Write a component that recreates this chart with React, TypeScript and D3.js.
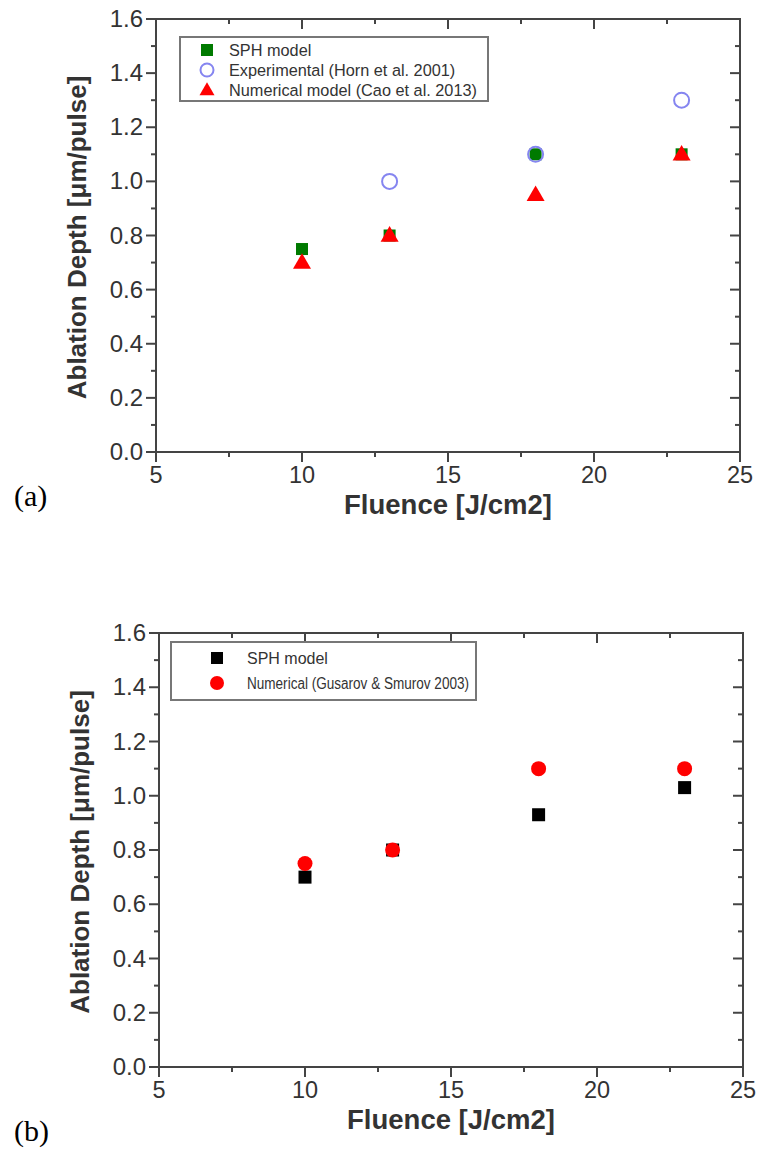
import React from "react";
import * as d3 from "d3";

const fluence = [10, 13, 18, 23];
const aSph = [0.75, 0.8, 1.1, 1.1];
const aExpFluence = [13, 18, 23];
const aExp = [1.0, 1.1, 1.3];
const aCao = [0.7, 0.8, 0.95, 1.1];
const bSph = [0.7, 0.8, 0.93, 1.03];
const bGusarov = [0.75, 0.8, 1.1, 1.1];

const xTicks = [5, 10, 15, 20, 25];
const xMinor = [7.5, 12.5, 17.5, 22.5];
const yTicks = [0, 0.2, 0.4, 0.6, 0.8, 1.0, 1.2, 1.4, 1.6];
const yMinor = [0.1, 0.3, 0.5, 0.7, 0.9, 1.1, 1.3, 1.5];

const legendA = ["SPH model", "Experimental (Horn et al. 2001)", "Numerical model (Cao et al. 2013)"];
const legendB = ["SPH model", "Numerical (Gusarov & Smurov 2003)"];

const AXIS = "#444";
const FONT = "Liberation Sans, Arial, sans-serif";
const GREEN = "#007a00";
const BLUE = "#8585f0";
const RED = "#ff0000";

type Frame = { left: number; right: number; top: number; bottom: number };

function Square({ x, y, s, fill }: { x: number; y: number; s: number; fill: string }) {
  return <rect x={x - s / 2} y={y - s / 2} width={s} height={s} fill={fill} />;
}
function Tri({ x, y, w, fill }: { x: number; y: number; w: number; fill: string }) {
  const p = d3.symbol(d3.symbolTriangle, w * w * 0.433)();
  return <path d={p as string} transform={`translate(${x},${y + 1})`} fill={fill} />;
}

function Axes({ f, sx, sy, label, labelY }: { f: Frame; sx: d3.ScaleLinear<number, number>; sy: d3.ScaleLinear<number, number>; label: string; labelY: number }) {
  const maj = 10;
  const min = 5;
  return (
    <g>
      <rect x={f.left} y={f.top} width={f.right - f.left} height={f.bottom - f.top} fill="none" stroke={AXIS} strokeWidth={2} />
      {xTicks.map((t) => (
        <g key={"xt" + t}>
          <line x1={sx(t)} x2={sx(t)} y1={f.bottom} y2={f.bottom + maj} stroke={AXIS} strokeWidth={2} />
          <line x1={sx(t)} x2={sx(t)} y1={f.top} y2={f.top + maj} stroke={AXIS} strokeWidth={2} />
          <text x={sx(t)} y={f.bottom + 31} textAnchor="middle" fontFamily={FONT} fontSize={23.5} fill="#333">
            {t}
          </text>
        </g>
      ))}
      {xMinor.map((t) => (
        <g key={"xm" + t}>
          <line x1={sx(t)} x2={sx(t)} y1={f.bottom} y2={f.bottom + min} stroke={AXIS} strokeWidth={2} />
          <line x1={sx(t)} x2={sx(t)} y1={f.top} y2={f.top + min} stroke={AXIS} strokeWidth={2} />
        </g>
      ))}
      {yTicks.map((t) => (
        <g key={"yt" + t}>
          <line x1={f.left - maj} x2={f.left} y1={sy(t)} y2={sy(t)} stroke={AXIS} strokeWidth={2} />
          <line x1={f.right - maj} x2={f.right} y1={sy(t)} y2={sy(t)} stroke={AXIS} strokeWidth={2} />
          <text x={f.left - 13} y={sy(t) + 8} textAnchor="end" fontFamily={FONT} fontSize={24} fill="#333">
            {t.toFixed(1)}
          </text>
        </g>
      ))}
      {yMinor.map((t) => (
        <g key={"ym" + t}>
          <line x1={f.left - min} x2={f.left} y1={sy(t)} y2={sy(t)} stroke={AXIS} strokeWidth={2} />
          <line x1={f.right - min} x2={f.right} y1={sy(t)} y2={sy(t)} stroke={AXIS} strokeWidth={2} />
        </g>
      ))}
      <text x={(f.left + f.right) / 2} y={f.bottom + 62} textAnchor="middle" fontFamily={FONT} fontSize={27.5} fontWeight="bold" fill="#333">
        Fluence [J/cm2]
      </text>
      <text
        transform={`translate(${f.left - 70},${(f.top + f.bottom) / 2 + 2}) rotate(-90)`}
        textAnchor="middle"
        fontFamily={FONT}
        fontSize={26}
        fontWeight="bold"
        fill="#333"
      >
        Ablation Depth [μm/pulse]
      </text>
      <text x={14} y={labelY} fontFamily="Liberation Serif, Times New Roman, serif" fontSize={30} fill="#000">
        {label}
      </text>
    </g>
  );
}

function PanelA() {
  const f: Frame = { left: 156, right: 740, top: 19, bottom: 452 };
  const sx = d3.scaleLinear().domain([5, 25]).range([f.left, f.right]);
  const sy = d3.scaleLinear().domain([0, 1.6]).range([f.bottom, f.top]);
  const lx = 207;
  const ly = [50, 70, 90];
  return (
    <g>
      <Axes f={f} sx={sx} sy={sy} label="(a)" labelY={506} />
      <rect x={180} y={37} width={308} height={64} fill="none" stroke="#777" strokeWidth={2} />
      <Square x={lx} y={ly[0]} s={12} fill={GREEN} />
      <circle cx={lx} cy={ly[1]} r={6.5} fill="none" stroke={BLUE} strokeWidth={2} />
      <Tri x={lx} y={ly[2]} w={15} fill={RED} />
      {legendA.map((t, i) => (
        <text key={t} x={229} y={ly[i] + 6} fontFamily={FONT} fontSize={16.3} fill="#333">
          {t}
        </text>
      ))}
      {fluence.map((x, i) => (
        <Square key={"s" + i} x={sx(x)} y={sy(aSph[i])} s={12} fill={GREEN} />
      ))}
      {aExpFluence.map((x, i) => (
        <circle key={"c" + i} cx={sx(x)} cy={sy(aExp[i])} r={7.5} fill="none" stroke={BLUE} strokeWidth={2} />
      ))}
      {fluence.map((x, i) => (
        <Tri key={"t" + i} x={sx(x)} y={sy(aCao[i])} w={18} fill={RED} />
      ))}
    </g>
  );
}

function PanelB() {
  const f: Frame = { left: 159, right: 743, top: 633, bottom: 1067 };
  const sx = d3.scaleLinear().domain([5, 25]).range([f.left, f.right]);
  const sy = d3.scaleLinear().domain([0, 1.6]).range([f.bottom, f.top]);
  const lx = 217;
  const ly = [658, 683];
  return (
    <g>
      <Axes f={f} sx={sx} sy={sy} label="(b)" labelY={1141} />
      <rect x={171} y={642} width={305} height={58} fill="#fff" stroke="#777" strokeWidth={2} />
      <Square x={lx} y={ly[0]} s={12} fill="#000" />
      <circle cx={lx} cy={ly[1]} r={7} fill={RED} />
      {legendB.map((t, i) => (
        <text
          key={t}
          x={247}
          y={ly[i] + 6}
          fontFamily={FONT}
          fontSize={16}
          fill="#333"
          textLength={i === 1 ? 222 : undefined}
          lengthAdjust={i === 1 ? "spacingAndGlyphs" : undefined}
        >
          {t}
        </text>
      ))}
      {fluence.map((x, i) => (
        <Square key={"s" + i} x={sx(x)} y={sy(bSph[i])} s={13} fill="#000" />
      ))}
      {fluence.map((x, i) => (
        <circle key={"c" + i} cx={sx(x)} cy={sy(bGusarov[i])} r={7.5} fill={RED} />
      ))}
    </g>
  );
}

export default function App() {
  return (
    <svg width={758} height={1151} style={{ position: "absolute", left: 0, top: 0, display: "block", background: "#fff" }}>
      <rect width={758} height={1151} fill="#fff" />
      <PanelA />
      <PanelB />
    </svg>
  );
}
